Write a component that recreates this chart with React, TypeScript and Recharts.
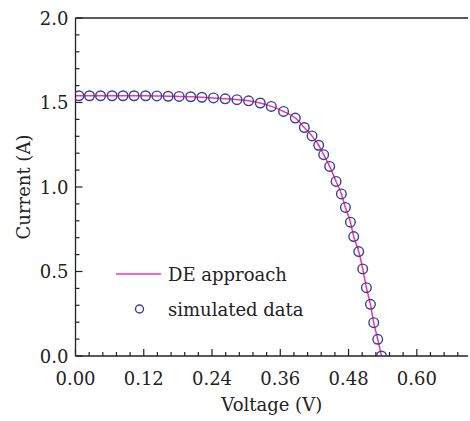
import React from 'react';
import { ComposedChart, Line, Scatter, XAxis, YAxis, ReferenceLine, Legend } from 'recharts';

// Simulated data points (V, A)
const voltage = [0.006, 0.0246, 0.044, 0.0643, 0.0836, 0.103, 0.1232, 0.143, 0.1629, 0.1822, 0.2025, 0.2222, 0.2426, 0.2632, 0.2838, 0.3042, 0.3248, 0.3442, 0.3658, 0.3864, 0.4023, 0.4158, 0.4275, 0.4363, 0.4468, 0.4581, 0.4674, 0.4745, 0.4833, 0.4891, 0.4979, 0.5049, 0.5114, 0.5185, 0.5243, 0.5313, 0.5379];
const current = [1.54, 1.54, 1.54, 1.54, 1.54, 1.54, 1.54, 1.539, 1.537, 1.536, 1.534, 1.531, 1.527, 1.522, 1.517, 1.51, 1.497, 1.477, 1.447, 1.408, 1.352, 1.302, 1.247, 1.191, 1.122, 1.033, 0.959, 0.879, 0.792, 0.707, 0.618, 0.515, 0.404, 0.306, 0.197, 0.099, 0.0];

// DE approach fitted curve
const fitVoltage = [0, ...voltage];
const fitCurrent = [1.54, ...current];

const xMajorTicks = [0, 0.12, 0.24, 0.36, 0.48, 0.6];
const xTickLabels = ['0.00', '0.12', '0.24', '0.36', '0.48', '0.60'];
const yMajorTicks = [0, 0.5, 1.0, 1.5, 2.0];
const yTickLabels = ['0.0', '0.5', '1.0', '1.5', '2.0'];

const seriesNames = ['DE approach', 'simulated data'];

const xMinorStep = 0.024;
const yMinorStep = 0.1;
const xMax = 0.69;
const yMax = 2.0;

const xAllTicks: number[] = [];
for (let k = 0; k * xMinorStep <= xMax + 1e-9; k++) xAllTicks.push(+(k * xMinorStep).toFixed(4));
const yAllTicks: number[] = [];
for (let k = 0; k * yMinorStep <= yMax + 1e-9; k++) yAllTicks.push(+(k * yMinorStep).toFixed(4));

const points = voltage.map((v, i) => ({ v, i: current[i] }));
const fit = fitVoltage.map((v, i) => ({ v, i: fitCurrent[i] }));

const FONT = '"DejaVu Serif", serif';
const FS = 18;
const INK = '#222';
const PINK = '#f0389c';
const BLUE = '#3b3ea3';

const findMajor = (arr: number[], v: number) => arr.findIndex((m) => Math.abs(m - v) < 1e-6);

const XTick = (props: any) => {
  const { x, y, payload } = props;
  const idx = findMajor(xMajorTicks, payload.value);
  const major = idx >= 0;
  return (
    <g>
      <line x1={x} x2={x} y1={y} y2={y - (major ? 7 : 4)} stroke={INK} strokeWidth={1.2} />
      {major && (
        <text x={x} y={y + 29} textAnchor="middle" fontFamily={FONT} fontSize={FS} fill={INK}>
          {xTickLabels[idx]}
        </text>
      )}
    </g>
  );
};

const YTick = (props: any) => {
  const { x, y, payload } = props;
  const idx = findMajor(yMajorTicks, payload.value);
  const major = idx >= 0;
  return (
    <g>
      <line x1={x} x2={x + (major ? 7 : 4)} y1={y} y2={y} stroke={INK} strokeWidth={1.2} />
      {major && (
        <text x={x - 7} y={y + 6.5} textAnchor="end" fontFamily={FONT} fontSize={FS} fill={INK}>
          {yTickLabels[idx]}
        </text>
      )}
    </g>
  );
};

const Circle = (props: any) => {
  const { cx, cy } = props;
  if (cx == null || cy == null) return null;
  return <circle cx={cx} cy={cy} r={4.8} fill="none" stroke={BLUE} strokeWidth={1.4} />;
};

const LegendContent = () => (
  <svg width={220} height={66} style={{ display: 'block' }}>
    <line x1={6} x2={51} y1={16} y2={16} stroke={PINK} strokeWidth={1.5} />
    <text x={58} y={22.5} fontFamily={FONT} fontSize={FS} fill={INK}>
      {seriesNames[0]}
    </text>
    <circle cx={29.5} cy={51} r={4} fill="none" stroke={BLUE} strokeWidth={1.4} />
    <text x={58} y={57.5} fontFamily={FONT} fontSize={FS} fill={INK}>
      {seriesNames[1]}
    </text>
  </svg>
);

export default function App() {
  return (
    <div style={{ position: 'absolute', left: 0, top: 0, background: '#fff' }}>
      <ComposedChart width={470} height={421} margin={{ top: 18, right: 2, bottom: 35, left: 15.5 }}>
        <XAxis
          dataKey="v"
          type="number"
          domain={[0, xMax]}
          ticks={xAllTicks}
          interval={0}
          allowDataOverflow
          tickSize={0}
          tickMargin={0}
          tickLine={false}
          tick={<XTick />}
          axisLine={{ stroke: INK, strokeWidth: 1.3 }}
          height={30}
          label={{ value: 'Voltage (V)', position: 'bottom', offset: 12, fontFamily: FONT, fontSize: FS, fill: INK }}
        />
        <YAxis
          dataKey="i"
          type="number"
          domain={[0, yMax]}
          ticks={yAllTicks}
          interval={0}
          allowDataOverflow
          tickSize={0}
          tickMargin={0}
          tickLine={false}
          tick={<YTick />}
          axisLine={{ stroke: INK, strokeWidth: 1.3 }}
          width={60}
          label={{
            value: 'Current (A)',
            angle: -90,
            position: 'insideLeft',
            offset: 8,
            fontFamily: FONT,
            fontSize: FS,
            fill: INK,
            style: { textAnchor: 'middle' },
          }}
        />
        <ReferenceLine y={yMax} stroke={INK} strokeWidth={1.3} ifOverflow="extendDomain" />
        <Scatter data={points} dataKey="i" shape={<Circle />} isAnimationActive={false} />
        <Line
          data={fit}
          dataKey="i"
          type="monotone"
          stroke={PINK}
          strokeWidth={1.5}
          dot={false}
          activeDot={false}
          isAnimationActive={false}
        />
        <Legend
          layout="horizontal"
          verticalAlign="middle"
          align="center"
          content={<LegendContent />}
          wrapperStyle={{ left: 110, top: 258, width: 220, height: 66 }}
        />
      </ComposedChart>
    </div>
  );
}
